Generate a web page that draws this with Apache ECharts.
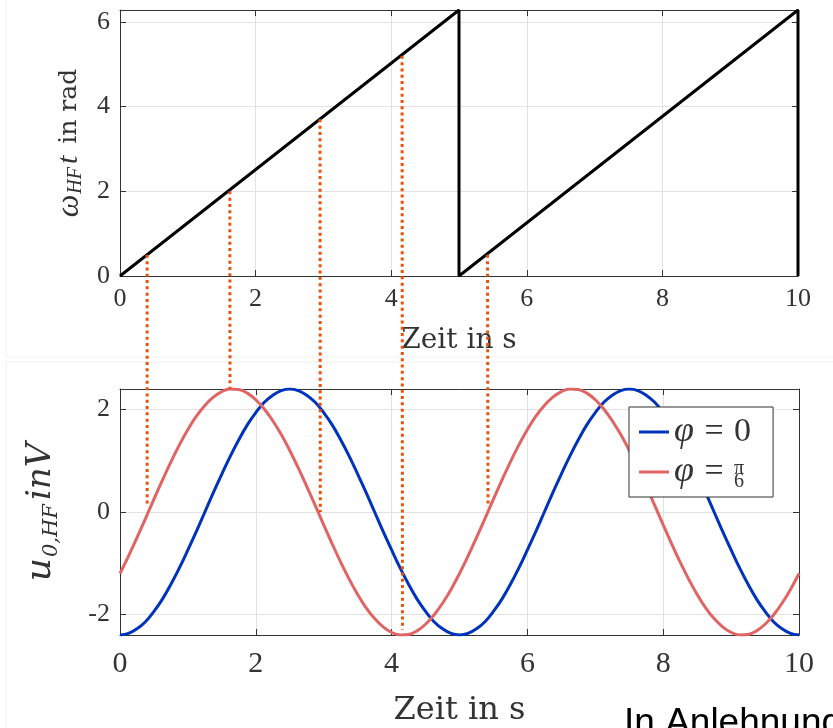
<!DOCTYPE html>
<html>
<head>
<meta charset="utf-8">
<script src="https://cdn.jsdelivr.net/npm/echarts@6/dist/echarts.min.js"></script>
<style>html,body{margin:0;padding:0;background:#fff}#c{width:833px;height:728px}</style>
</head>
<body>
<div id="c"></div>
<script>
// ---- data ----
const timeTicks = [0, 2, 4, 6, 8, 10];
const phaseT = [0, 5, 5, 10, 10];
const phaseVal = [0, 6.283, 0, 6.283, 0];
const sineT = [
  0, 0.125, 0.25, 0.375, 0.5, 0.625, 0.75, 0.875, 1, 1.125, 1.25, 1.375, 1.5, 1.625, 1.75, 1.875,
  2, 2.125, 2.25, 2.375, 2.5, 2.625, 2.75, 2.875, 3, 3.125, 3.25, 3.375, 3.5, 3.625, 3.75, 3.875,
  4, 4.125, 4.25, 4.375, 4.5, 4.625, 4.75, 4.875, 5, 5.125, 5.25, 5.375, 5.5, 5.625, 5.75, 5.875,
  6, 6.125, 6.25, 6.375, 6.5, 6.625, 6.75, 6.875, 7, 7.125, 7.25, 7.375, 7.5, 7.625, 7.75, 7.875,
  8, 8.125, 8.25, 8.375, 8.5, 8.625, 8.75, 8.875, 9, 9.125, 9.25, 9.375, 9.5, 9.625, 9.75, 9.875, 10];
const uPhi0 = [
  -2.40, -2.37, -2.28, -2.14, -1.94, -1.70, -1.41, -1.09, -0.74, -0.38, 0.00, 0.38, 0.74, 1.09, 1.41, 1.70,
  1.94, 2.14, 2.28, 2.37, 2.40, 2.37, 2.28, 2.14, 1.94, 1.70, 1.41, 1.09, 0.74, 0.38, 0.00, -0.38,
  -0.74, -1.09, -1.41, -1.70, -1.94, -2.14, -2.28, -2.37, -2.40, -2.37, -2.28, -2.14, -1.94, -1.70, -1.41, -1.09,
  -0.74, -0.38, 0.00, 0.38, 0.74, 1.09, 1.41, 1.70, 1.94, 2.14, 2.28, 2.37, 2.40, 2.37, 2.28, 2.14,
  1.94, 1.70, 1.41, 1.09, 0.74, 0.38, 0.00, -0.38, -0.74, -1.09, -1.41, -1.70, -1.94, -2.14, -2.28, -2.37, -2.40];
const uPhi30 = [
  -1.20, -0.86, -0.50, -0.13, 0.25, 0.62, 0.98, 1.31, 1.61, 1.87, 2.08, 2.24, 2.35, 2.40, 2.39, 2.32,
  2.19, 2.01, 1.78, 1.51, 1.20, 0.86, 0.50, 0.13, -0.25, -0.62, -0.98, -1.31, -1.61, -1.87, -2.08, -2.24,
  -2.35, -2.40, -2.39, -2.32, -2.19, -2.01, -1.78, -1.51, -1.20, -0.86, -0.50, -0.13, 0.25, 0.62, 0.98, 1.31,
  1.61, 1.87, 2.08, 2.24, 2.35, 2.40, 2.39, 2.32, 2.19, 2.01, 1.78, 1.51, 1.20, 0.86, 0.50, 0.13,
  -0.25, -0.62, -0.98, -1.31, -1.61, -1.87, -2.08, -2.24, -2.35, -2.40, -2.39, -2.32, -2.19, -2.01, -1.78, -1.51, -1.20];
const markT = [0.40, 1.62, 2.95, 4.16, 5.42];
const markPhase = [0.50, 2.00, 3.70, 5.20, 0.50];
const markU = [0.10, 2.40, 0.00, -2.30, 0.10];
const seriesNames = ['phi0', 'phi30'];

// ---- styles ----
const AX = '#333';
const GRIDC = '#e2e2e2';
const SERIF = 'Liberation Serif';
const intFmt = v => (Math.abs(v - Math.round(v)) < 1e-6 ? String(Math.round(v)) : '');

function xAx(grid, main, fs, margin, nameGap, nameFs) {
  const a = {
    type: 'value', gridIndex: grid, min: 0, max: 10, interval: 2,
    position: main ? 'bottom' : 'top',
    axisLine: {show: true, onZero: false, lineStyle: {color: AX, width: 1}},
    axisTick: {show: true, inside: true, length: 6, lineStyle: {color: AX}},
    axisLabel: {show: main, fontFamily: SERIF, fontSize: fs, color: AX, margin: margin, formatter: intFmt},
    splitLine: {show: main, lineStyle: {color: GRIDC, width: 1}}
  };
  if (main) {
    a.name = 'Zeit in s';
    a.nameLocation = 'middle';
    a.nameGap = nameGap;
    a.nameTextStyle = {fontFamily: 'DejaVu Serif', fontSize: nameFs, color: AX};
  }
  return a;
}
function yAx(grid, main, min, max, extra) {
  return Object.assign({
    type: 'value', gridIndex: grid, min: min, max: max,
    position: main ? 'left' : 'right',
    axisLine: {show: true, onZero: false, lineStyle: {color: AX, width: 1}},
    axisTick: {show: true, inside: true, length: 6, lineStyle: {color: AX}},
    axisLabel: {show: main, fontFamily: SERIF, fontSize: 26, color: AX, margin: 10, formatter: intFmt},
    splitLine: {show: main, lineStyle: {color: GRIDC, width: 1}}
  }, extra || {});
}

const topName = {
  name: '{w|ω}{s|HF}{t|t}{r| in rad}',
  nameLocation: 'middle', nameGap: 30,
  nameTextStyle: {
    color: AX,
    rich: {
      w: {fontFamily: SERIF, fontStyle: 'italic', fontSize: 32, lineHeight: 34, color: AX},
      s: {fontFamily: SERIF, fontStyle: 'italic', fontSize: 20, lineHeight: 34, verticalAlign: 'bottom', padding: [0, 3, 0, 1], color: AX},
      t: {fontFamily: SERIF, fontStyle: 'italic', fontSize: 30, lineHeight: 34, padding: [0, 4, 0, 0], color: AX},
      r: {fontFamily: 'DejaVu Serif', fontSize: 25, lineHeight: 34, color: AX}
    }
  }
};
const botName = {
  name: '{u|u}{s|0,HF}{r|inV}',
  nameLocation: 'middle', nameGap: 58,
  nameTextStyle: {
    color: AX,
    rich: {
      u: {fontFamily: 'DejaVu Serif', fontStyle: 'italic', fontSize: 36, lineHeight: 42, color: AX},
      s: {fontFamily: 'DejaVu Serif', fontStyle: 'italic', fontSize: 21, lineHeight: 42, verticalAlign: 'bottom', padding: [0, 4, 0, 1], color: AX},
      r: {fontFamily: 'DejaVu Serif', fontStyle: 'italic', fontSize: 34, lineHeight: 42, color: AX}
    }
  }
};

const chart = echarts.init(document.getElementById('c'), null, {renderer: 'canvas'});

const option = {
  animation: false,
  backgroundColor: '#fff',
  grid: [
    {left: 120, top: 10, width: 678, height: 266},
    {left: 120, top: 389, width: 679, height: 247}
  ],
  xAxis: [
    xAx(0, true, 26, 10, 51, 28),
    xAx(0, false),
    xAx(1, true, 30, 14, 60, 32),
    xAx(1, false)
  ],
  yAxis: [
    yAx(0, true, 0, 6.283, Object.assign({interval: 2}, topName)),
    yAx(0, false, 0, 6.283, {interval: 2}),
    yAx(1, true, -2.4, 2.4, Object.assign({splitNumber: 2}, botName)),
    yAx(1, false, -2.4, 2.4, {splitNumber: 2})
  ],
  legend: {
    data: seriesNames,
    orient: 'vertical',
    left: 629, top: 407,
    padding: [5, 22, 5, 10],
    itemGap: 0,
    itemWidth: 30, itemHeight: 3,
    icon: 'rect',
    backgroundColor: '#fff',
    borderColor: AX, borderWidth: 1,
    formatter: n => n === 'phi0' ? '{g|φ}{e| = }{z|0}' : '{g|φ}{e| = }{n|π}{d|6}',
    textStyle: {
      color: AX,
      lineHeight: 40,
      rich: {
        g: {fontFamily: SERIF, fontStyle: 'italic', fontSize: 36, lineHeight: 40, color: AX},
        e: {fontFamily: SERIF, fontSize: 34, lineHeight: 40, padding: [0, 2, 0, 2], color: AX},
        z: {fontFamily: SERIF, fontSize: 34, lineHeight: 40, color: AX},
        n: {fontFamily: SERIF, fontSize: 20, lineHeight: 40, width: 0, verticalAlign: 'middle', padding: [0, 0, 6, 0], color: AX},
        d: {fontFamily: SERIF, fontSize: 20, lineHeight: 40, verticalAlign: 'bottom', padding: [0, 0, 0, 0], color: AX}
      }
    }
  },
  series: [
    {
      name: 'saw', type: 'line', xAxisIndex: 0, yAxisIndex: 0,
      data: phaseT.map((t, i) => [t, phaseVal[i]]),
      showSymbol: false, symbol: 'none',
      lineStyle: {color: '#000', width: 3},
      z: 3
    },
    {
      name: 'phi0', type: 'line', xAxisIndex: 2, yAxisIndex: 2,
      data: sineT.map((t, i) => [t, uPhi0[i]]),
      smooth: 0.4, showSymbol: false, symbol: 'none',
      itemStyle: {color: '#0033bb'},
      lineStyle: {color: '#0033bb', width: 3},
      z: 3
    },
    {
      name: 'phi30', type: 'line', xAxisIndex: 2, yAxisIndex: 2,
      data: sineT.map((t, i) => [t, uPhi30[i]]),
      smooth: 0.4, showSymbol: false, symbol: 'none',
      itemStyle: {color: '#e06464'},
      lineStyle: {color: '#e06464', width: 3},
      z: 3
    }
  ],
  graphic: [
    {id: 'frameV1', type: 'line', shape: {x1: 6, y1: 0, x2: 6, y2: 357}, style: {stroke: '#efefef', lineWidth: 1}, silent: true, z: -1},
    {id: 'frameH1', type: 'line', shape: {x1: 6, y1: 357, x2: 833, y2: 357}, style: {stroke: '#efefef', lineWidth: 1}, silent: true, z: -1},
    {id: 'frameV2', type: 'line', shape: {x1: 6, y1: 362, x2: 6, y2: 728}, style: {stroke: '#efefef', lineWidth: 1}, silent: true, z: -1},
    {id: 'frameH2', type: 'line', shape: {x1: 6, y1: 362, x2: 833, y2: 362}, style: {stroke: '#efefef', lineWidth: 1}, silent: true, z: -1},
    {id: 'credit', type: 'text', left: 624, top: 705, z: 20,
      style: {text: 'In Anlehnung an', fontFamily: 'Liberation Sans', fontSize: 37, fill: '#000'}}
  ]
};

chart.setOption(option);

// dotted connector lines, positioned through the axes' scales
const dots = markT.map((t, i) => {
  const p1 = chart.convertToPixel({xAxisIndex: 0, yAxisIndex: 0}, [t, markPhase[i]]);
  const p2 = chart.convertToPixel({xAxisIndex: 2, yAxisIndex: 2}, [t, markU[i]]);
  return {
    id: 'dot' + i, type: 'line', silent: true, z: 10,
    shape: {x1: p1[0], y1: p1[1], x2: p2[0], y2: p2[1]},
    style: {stroke: '#e8520c', lineWidth: 3, lineDash: [3, 3.3]}
  };
});
chart.setOption({graphic: dots});
</script>
</body>
</html>
